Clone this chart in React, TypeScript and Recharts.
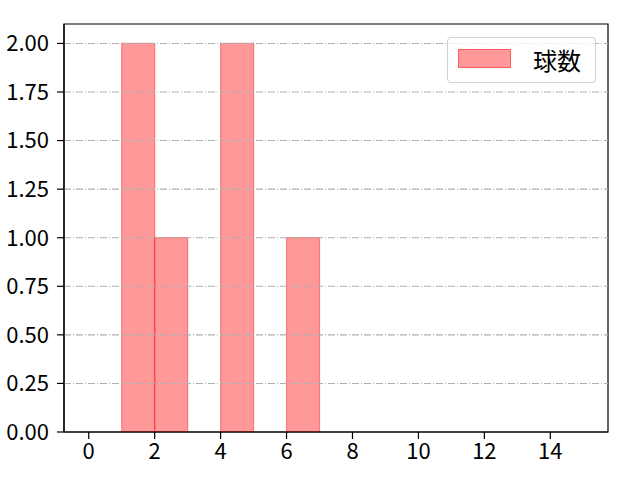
import { BarChart, Bar, XAxis, YAxis, ReferenceLine, ReferenceArea, Legend } from 'recharts';

// histogram bins: centre of each unit-wide bin and its count
const binCenters = [0.5, 1.5, 2.5, 3.5, 4.5, 5.5, 6.5, 7.5, 8.5, 9.5, 10.5, 11.5, 12.5, 13.5, 14.5];
const counts = [0, 2, 1, 0, 2, 0, 1, 0, 0, 0, 0, 0, 0, 0, 0];
const xTicks = [0, 2, 4, 6, 8, 10, 12, 14];
const yTicks = [0, 0.25, 0.5, 0.75, 1, 1.25, 1.5, 1.75, 2];
const xDomain = [-0.75, 15.75];
const yDomain = [0, 2.1];
const seriesName = '球数';

const data = binCenters.map((c, i) => ({ center: c, count: counts[i] }));

const font = '"Noto Sans CJK JP", "Noto Sans", sans-serif';
const tickStyle = { fill: '#000', fontSize: 22, fontFamily: font };

function LegendBox() {
  return (
    <div
      style={{
        width: 149,
        height: 46,
        boxSizing: 'border-box',
        border: '1px solid #d0d0d0',
        borderRadius: 4,
        background: 'rgba(255,255,255,0.8)',
        position: 'relative',
        fontFamily: font,
      }}
    >
      <div
        style={{
          position: 'absolute',
          left: 10,
          top: 11,
          width: 53,
          height: 19,
          boxSizing: 'border-box',
          background: 'rgba(255,0,0,0.4)',
          border: '1px solid rgba(255,0,0,0.4)',
        }}
      />
      <span style={{ position: 'absolute', left: 85, top: 6, fontSize: 24, lineHeight: '32px', color: '#000' }}>
        {seriesName}
      </span>
    </div>
  );
}

export default function App() {
  return (
    <div style={{ position: 'absolute', left: 0, top: 0, width: 640, height: 480, background: '#fff' }}>
      <BarChart
        width={640}
        height={480}
        data={data}
        margin={{ top: 24, right: 32, bottom: 0, left: 0 }}
        barCategoryGap={0}
        barGap={0}
      >
        <XAxis
          dataKey="center"
          type="number"
          domain={xDomain}
          ticks={xTicks}
          allowDataOverflow
          height={48}
          tickSize={7}
          tickMargin={4}
          tick={tickStyle}
          axisLine={{ stroke: '#000', strokeWidth: 1.2 }}
          tickLine={{ stroke: '#000', strokeWidth: 1.2 }}
        />
        <YAxis
          type="number"
          domain={yDomain}
          ticks={yTicks}
          allowDataOverflow
          width={64}
          tickSize={7}
          tickMargin={8}
          tick={tickStyle}
          tickFormatter={(v: number) => v.toFixed(2)}
          axisLine={{ stroke: '#000', strokeWidth: 1.2 }}
          tickLine={{ stroke: '#000', strokeWidth: 1.2 }}
        />
        <Bar
          dataKey="count"
          name={seriesName}
          fill="#ff0000"
          fillOpacity={0.4}
          stroke="#ff0000"
          strokeOpacity={0.4}
          strokeWidth={1.2}
          isAnimationActive={false}
        />
        {yTicks.slice(1).map((t) => (
          <ReferenceLine key={t} y={t} stroke="#b0b0b0" strokeWidth={1.1} strokeDasharray="7 2 1 2" />
        ))}
        {/* frame around the plot area (top and right spines) */}
        <ReferenceArea
          x1={xDomain[0]}
          x2={xDomain[1]}
          y1={yDomain[0]}
          y2={yDomain[1]}
          fill="none"
          fillOpacity={0}
          stroke="#000"
          strokeWidth={1.2}
          strokeOpacity={1}
        />
        <Legend
          layout="vertical"
          align="center"
          verticalAlign="middle"
          content={() => <LegendBox />}
          wrapperStyle={{ position: 'absolute', left: 447, top: 37, width: 149 }}
        />
      </BarChart>
    </div>
  );
}
